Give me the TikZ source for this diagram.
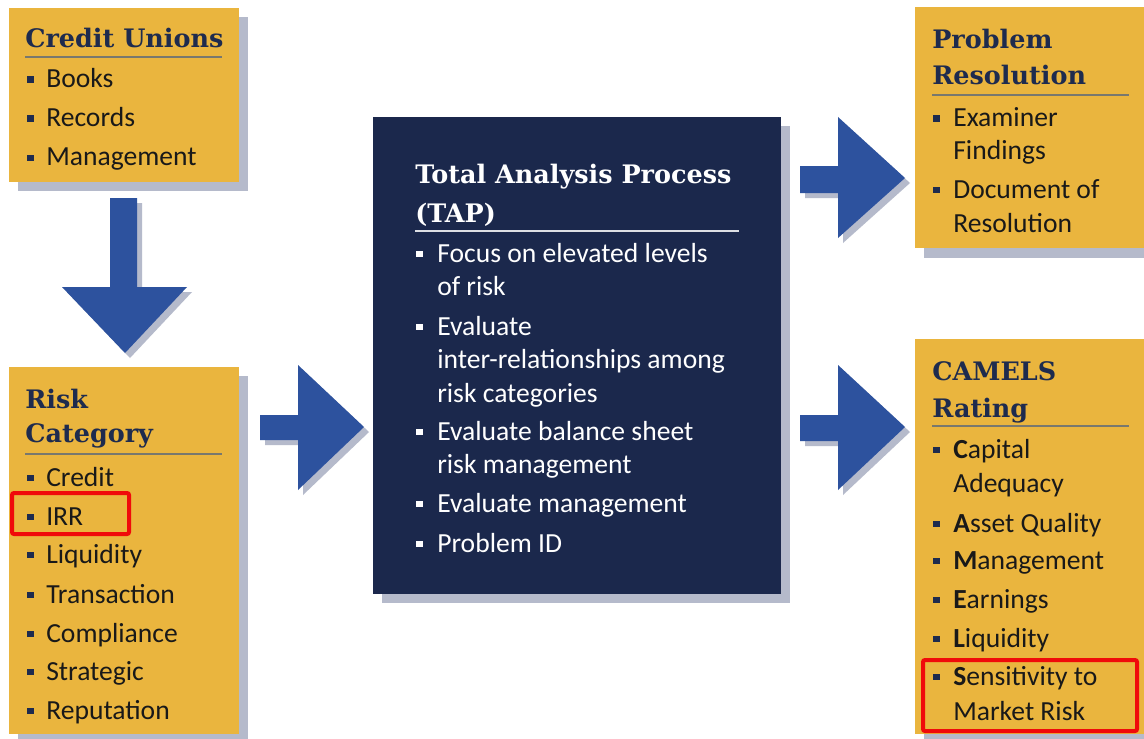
\documentclass[tikz,border=0pt]{standalone}
\usepackage{fontspec}
\setmainfont{Carlito}
\newfontfamily\ttlfont{DejaVu Serif}
\definecolor{gold}{RGB}{234,181,62}
\definecolor{navybox}{RGB}{27,40,76}
\definecolor{navytxt}{RGB}{30,43,78}
\definecolor{arrowblue}{RGB}{45,82,158}
\definecolor{shade}{RGB}{181,186,203}
\definecolor{rulegrey}{RGB}{120,120,110}
\definecolor{redbox}{RGB}{240,10,10}
\tikzset{
  x=0.75pt, y=-0.75pt,
  body/.style={anchor=base west, inner sep=0pt, font=\fontsize{20.7}{24}\selectfont, text=black!90},
  wbody/.style={body, text=white},
  ttl/.style={anchor=base west, inner sep=0pt, font=\ttlfont\bfseries\fontsize{19.1}{24}\selectfont, text=navytxt},
  wttl/.style={ttl, text=white},
  goldbox/.style={fill=gold, draw=none},
  shadowbox/.style={fill=shade, draw=none},
  hl/.style={draw=redbox, line width=3pt, rounded corners=1.5pt},
  blk/.style={fill=arrowblue, draw=none},
  blkshadow/.style={fill=shade, draw=none},
}
\begin{document}
\begin{tikzpicture}
\useasboundingbox (0,0) rectangle (1144,738);
\clip (0,0) rectangle (1144,738);
\fill[white] (0,0) rectangle (1144,738);

% ---------- shadows ----------
\fill[shadowbox] (18,17) rectangle (248,191);
\fill[shadowbox] (18,376) rectangle (248,745);
\fill[shadowbox] (924,16) rectangle (1150,258);
\fill[shadowbox] (924,348) rectangle (1150,745);
\fill[shadowbox] (382,126) rectangle (790,603);

% ---------- boxes ----------
\node[goldbox, anchor=north west, minimum width=230*0.75pt, minimum height=174*0.75pt, inner sep=0pt] (cu) at (9,8) {};
\node[goldbox, anchor=north west, minimum width=230*0.75pt, minimum height=367*0.75pt, inner sep=0pt] (rc) at (9,367) {};
\node[goldbox, anchor=north west, minimum width=235*0.75pt, minimum height=241*0.75pt, inner sep=0pt] (pr) at (915,7) {};
\node[goldbox, anchor=north west, minimum width=235*0.75pt, minimum height=395*0.75pt, inner sep=0pt] (cr) at (915,339) {};
\node[fill=navybox, anchor=north west, minimum width=408*0.75pt, minimum height=477*0.75pt, inner sep=0pt] (tap) at (373,117) {};

% ---------- block arrows (shadow then arrow) ----------
\foreach \dx/\dy/\st in {5/5/blkshadow, 0/0/blk}{
  \begin{scope}[shift={(\dx*0.75pt,-\dy*0.75pt)}]
  % down arrow Credit Unions -> Risk Category
  \fill[\st] (110,198) -- (137,198) -- (137,287) -- (187,287) -- (125,353) -- (62,287) -- (110,287) -- cycle;
  % Risk Category -> TAP
  \fill[\st] (260,415) -- (298,415) -- (298,365) -- (364,427) -- (298,490) -- (298,440) -- (260,440) -- cycle;
  % TAP -> Problem Resolution
  \fill[\st] (800,166) -- (838,166) -- (838,117) -- (905,178) -- (838,238) -- (838,193) -- (800,193) -- cycle;
  % TAP -> CAMELS
  \fill[\st] (800,415) -- (838,415) -- (838,365) -- (905,427) -- (838,490) -- (838,441) -- (800,441) -- cycle;
  \end{scope}
}

% ---------- Credit Unions ----------
\node[ttl] (cut) at (25,48) {Credit Unions};
\draw[rulegrey, line width=1.2pt] (25,57) -- (222,57);
\foreach \y in {88,127,166}{\fill[navytxt] (27,\y-11.5) rectangle (33.5,\y-5);}
\node[body] (cu1) at (46,88) {Books};
\node[body] (cu2) at (46,127) {Records};
\node[body] (cu3) at (46,166) {Management};

% ---------- Risk Category ----------
\node[ttl] (rct1) at (25,408) {Risk};
\node[ttl] (rct2) at (25,442) {Category};
\draw[rulegrey, line width=1.2pt] (25,454) -- (222,454);
\foreach \y in {486,525,563,603,642,680,719}{\fill[navytxt] (27,\y-11.5) rectangle (33.5,\y-5);}
\node[body] (rc1) at (46,486) {Credit};
\node[body] (rc2) at (46,525) {IRR};
\node[body] (rc3) at (46,563) {Liquidity};
\node[body] (rc4) at (46,603) {Transaction};
\node[body] (rc5) at (46,642) {Compliance};
\node[body] (rc6) at (46,680) {Strategic};
\node[body] (rc7) at (46,719) {Reputation};
\draw[hl] (12,493) rectangle (129,534);

% ---------- TAP ----------
\node[wttl] (tapt1) at (415,183) {Total Analysis Process};
\node[wttl] (tapt2) at (415,222) {(TAP)};
\draw[white!85!navybox, line width=1.2pt] (415,231) -- (739,231);
\foreach \y in {262,335,440,512,552}{\fill[white] (416,\y-11.5) rectangle (422.5,\y-5);}
\node[wbody] (tap1a) at (437,262) {Focus on elevated levels};
\node[wbody] (tap1b) at (437,295) {of risk};
\node[wbody] (tap2a) at (437,335) {Evaluate};
\node[wbody] (tap2b) at (437,368) {inter-relationships among};
\node[wbody] (tap2c) at (437,402) {risk categories};
\node[wbody] (tap3a) at (437,440) {Evaluate balance sheet};
\node[wbody] (tap3b) at (437,473) {risk management};
\node[wbody] (tap4) at (437,512) {Evaluate management};
\node[wbody] (tap5) at (437,552) {Problem ID};

% ---------- Problem Resolution ----------
\node[ttl] (prt1) at (932,49) {Problem};
\node[ttl] (prt2) at (932,85) {Resolution};
\draw[rulegrey, line width=1.2pt] (932,95) -- (1129,95);
\foreach \y in {127,198}{\fill[navytxt] (933,\y-11.5) rectangle (939.5,\y-5);}
\node[body] (pr1a) at (953,127) {Examiner};
\node[body] (pr1b) at (953,160) {Findings};
\node[body] (pr2a) at (953,198) {Document of};
\node[body] (pr2b) at (953,232) {Resolution};

% ---------- CAMELS ----------
\node[ttl] (crt1) at (932,380) {CAMELS};
\node[ttl] (crt2) at (932,417) {Rating};
\draw[rulegrey, line width=1.2pt] (932,426) -- (1129,426);
\foreach \y in {458,532,569,608,647,685}{\fill[navytxt] (933,\y-11.5) rectangle (939.5,\y-5);}
\node[body] (cr1a) at (953,458) {\textbf{C}apital};
\node[body] (cr1b) at (953,492) {Adequacy};
\node[body] (cr2) at (953,532) {\textbf{A}sset Quality};
\node[body] (cr3) at (953,569) {\textbf{M}anagement};
\node[body] (cr4) at (953,608) {\textbf{E}arnings};
\node[body] (cr5) at (953,647) {\textbf{L}iquidity};
\node[body] (cr6a) at (953,685) {\textbf{S}ensitivity to};
\node[body] (cr6b) at (953,720) {Market Risk};
\draw[hl] (923,660) rectangle (1137,731);
\end{tikzpicture}
\end{document}
